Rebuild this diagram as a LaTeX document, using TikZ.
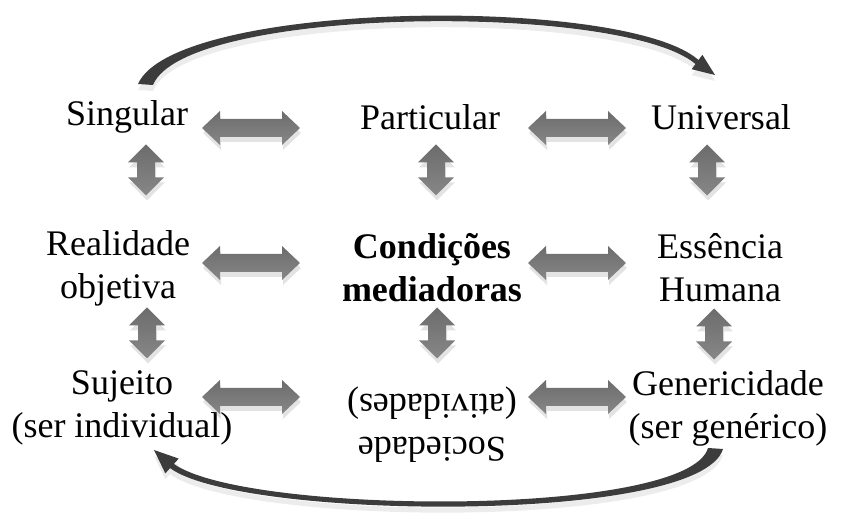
\documentclass[tikz,border=0pt]{standalone}
\usepackage{fontspec}
\setmainfont{Liberation Serif}
\usetikzlibrary{shadows}
\definecolor{arrowtop}{RGB}{108,108,108}
\definecolor{arrowbot}{RGB}{135,135,135}
\definecolor{curvedark}{RGB}{60,60,60}
\definecolor{curvemid}{RGB}{150,150,150}
\begin{document}
\begin{tikzpicture}[x=0.5pt,y=-0.5pt,
  lbl/.style={align=center,inner sep=0pt,font=\fontsize{18}{21.5}\selectfont},
  lblbold/.style={align=center,inner sep=0pt,font=\fontsize{18}{21.5}\selectfont\bfseries},
  afill/.style={top color=arrowtop,bottom color=arrowbot,
    drop shadow={opacity=0.22,shadow xshift=0.5pt,shadow yshift=-2.5pt}},
  cfill/.style={left color=curvedark,middle color=curvemid,right color=curvedark,
    drop shadow={opacity=0.15,shadow xshift=0pt,shadow yshift=-3pt}},
  hdbl/.pic={\path[afill] (-49,0) -- (-31,-17) -- (-31,-9) -- (31,-9) -- (31,-17)
     -- (49,0) -- (31,17) -- (31,9) -- (-31,9) -- (-31,17) -- cycle;},
  vdbl/.pic={\path[afill] (0,-25.5) -- (18,-7.5) -- (9,-7.5) -- (9,7.5) -- (18,7.5)
     -- (0,25.5) -- (-18,7.5) -- (-9,7.5) -- (-9,-7.5) -- (-18,-7.5) -- cycle;}
]
\useasboundingbox (0,0) rectangle (842,518);

% text nodes
\node[lbl] (sing) at (127,117) {Singular};
\node[lbl] (part) at (430,117) {Particular};
\node[lbl] (univ) at (721,117) {Universal};
\node[lbl] (real) at (118,268) {Realidade\\objetiva};
\node[lblbold] (cond) at (432,268) {Condições\\mediadoras};
\node[lbl] (ess) at (720,268) {Essência\\Humana};
\node[lbl] (suj) at (122,408) {Sujeito\\(ser individual)};
\node[lbl,rotate=180] (soc) at (432,425) {Sociedade\\(atividades)};
\node[lbl] (gen) at (728,408) {Genericidade\\(ser genérico)};

% horizontal block arrows
\pic at (251,128) {hdbl};
\pic at (577,128) {hdbl};
\pic at (251,263) {hdbl};
\pic at (577,263) {hdbl};
\pic at (251,397) {hdbl};
\pic at (577,397) {hdbl};

% vertical block arrows
\pic at (146,170) {vdbl};
\pic at (436,170) {vdbl};
\pic at (707,170) {vdbl};
\pic at (147,333) {vdbl};
\pic at (437,333) {vdbl};
\pic at (714,334) {vdbl};

% top curved arrow (Singular -> Universal)
\path[cfill] (138,84) .. controls (175,0) and (625,-5) .. (698.5,60)
  -- (702.4,54.8) -- (715,75) -- (691.6,69.2) -- (695.5,64)
  .. controls (622,2) and (185,6) .. (153,85) -- cycle;

% bottom curved arrow (Genericidade -> Sujeito)
\path[cfill] (723,449) .. controls (700,525) and (240,520) .. (170.1,468.1)
  -- (165.3,473.4) -- (154,450) -- (178.7,458.6) -- (173.9,463.9)
  .. controls (245,515) and (688,518) .. (708,448) -- cycle;
\end{tikzpicture}
\end{document}
